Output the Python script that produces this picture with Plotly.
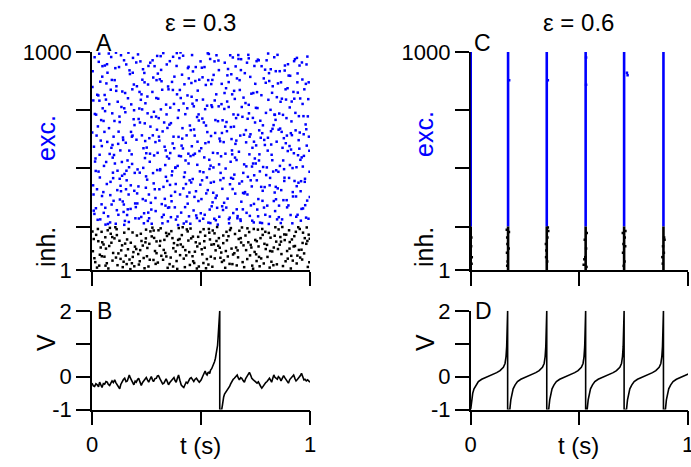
import plotly.graph_objects as go

# ---------------- data ----------------
# Panel A raster (eps = 0.3): (time in ms, neuron index)
exc_A = [
(3,912),(17,455),(42,688),(8,273),(29,801),(46,340),(12,976),(35,529),(21,617),(5,389),(38,864),(26,231),(49,742),(14,498),(31,955),(9,566),(44,302),(19,713),(2,840),(36,425),(27,659),(11,258),(47,887),(23,371),(40,594),(6,778),(33,992),(16,512),
(57,634),(83,219),(71,905),(96,447),(64,782),(52,358),(89,561),(77,993),(61,286),(93,719),(55,478),(86,827),(68,395),(99,612),(74,247),(59,938),(81,533),(90,301),(66,856),(53,684),(97,422),(79,761),(62,209),(88,977),(70,588),(84,344),(58,803),(95,516),
(104,871),(128,324),(143,597),(117,456),(135,748),(109,213),(147,962),(122,635),(131,387),(101,528),(139,819),(114,275),(126,704),(149,441),(107,926),(133,362),(120,579),(145,267),(112,843),(137,496),(103,684),(124,931),(141,315),(118,772),(130,549),(148,208),(110,997),(127,419),
(153,724),(178,389),(192,851),(161,253),(186,617),(157,943),(170,472),(198,306),(165,788),(182,531),(151,226),(174,899),(195,665),(159,412),(188,973),(168,347),(180,760),(155,584),(199,238),(172,916),(163,503),(191,692),(177,281),(185,829),(158,456),(194,364),(167,997),(183,612),
(204,598),(231,873),(246,319),(217,741),(209,462),(238,215),(222,957),(249,536),(213,384),(227,806),(242,673),(201,289),(234,921),(219,447),(245,765),(207,352),(229,618),(240,904),(215,237),(236,559),(224,781),(248,430),(211,989),(233,326),(220,677),(243,514),(206,843),(239,261),
(253,415),(278,962),(291,587),(262,238),(284,726),(257,851),(270,309),(298,644),(265,497),(281,883),(251,562),(274,213),(295,789),(259,936),(288,371),(268,658),(280,445),(255,719),(299,982),(272,278),(263,605),(291,331),(277,817),(285,526),(258,264),(294,704),(267,951),(283,398),
(304,786),(321,243),(346,652),(317,918),(309,371),(338,549),(322,827),(349,286),(313,463),(327,995),(342,714),(301,538),(334,327),(319,866),(345,409),(307,612),(329,254),(340,759),(315,981),(336,482),(324,636),(348,224),(311,875),(333,566),(320,303),(343,943),(306,697),(339,428),
(353,512),(378,887),(392,246),(362,674),(384,395),(357,958),(370,581),(398,733),(365,316),(382,469),(351,829),(374,612),(395,207),(359,745),(388,936),(368,453),(380,288),(355,667),(399,524),(372,978),(363,341),(390,806),(377,559),(385,232),(358,391),(394,698),(367,863),(383,471),
(404,347),(428,715),(443,932),(417,558),(409,264),(438,801),(422,427),(449,663),(413,896),(427,289),(442,534),(401,972),(434,618),(419,375),(445,247),(407,789),(429,503),(440,926),(415,651),(436,338),(424,852),(448,412),(411,571),(433,223),(420,764),(443,489),(406,998),(439,305),
(453,642),(478,251),(492,873),(462,418),(484,589),(457,795),(470,336),(498,957),(465,528),(482,702),(451,213),(474,867),(495,453),(459,986),(488,317),(468,645),(480,779),(455,402),(499,261),(472,534),(463,911),(490,686),(477,362),(485,823),(458,568),(494,226),(467,751),(483,483),
(504,928),(531,367),(546,615),(517,254),(509,782),(538,506),(522,849),(549,293),(513,677),(527,425),(542,968),(501,559),(534,218),(519,738),(545,401),(507,884),(529,633),(540,278),(515,517),(536,991),(524,352),(548,756),(511,449),(533,871),(520,582),(543,216),(506,695),(539,464),
(553,311),(578,683),(592,522),(562,957),(584,245),(557,471),(570,806),(598,373),(565,629),(582,917),(551,748),(574,286),(595,854),(559,405),(588,591),(568,229),(580,961),(555,538),(599,687),(572,342),(563,778),(590,446),(577,209),(585,603),(558,895),(594,761),(567,331),(583,485),
(604,587),(628,234),(643,806),(617,679),(609,951),(638,423),(622,328),(649,714),(613,466),(627,862),(642,549),(601,276),(634,985),(619,637),(645,372),(607,739),(629,215),(640,601),(615,834),(636,497),(624,922),(648,262),(611,658),(633,394),(620,773),(643,531),(606,309),(639,898),
(653,438),(678,826),(692,279),(662,594),(684,967),(657,351),(670,712),(698,485),(665,879),(682,226),(651,658),(674,543),(695,791),(659,934),(688,407),(668,248),(680,617),(655,785),(699,352),(672,968),(663,505),(690,703),(677,871),(685,314),(658,579),(694,446),(667,238),(683,917),
(704,766),(728,412),(743,589),(717,987),(709,263),(738,698),(722,531),(749,854),(713,347),(727,623),(742,219),(701,903),(734,475),(719,758),(745,936),(707,586),(729,297),(740,812),(715,428),(736,561),(724,249),(748,677),(711,951),(733,384),(720,719),(743,304),(706,642),(739,489),
(753,572),(778,935),(792,381),(762,247),(784,664),(757,816),(770,453),(798,721),(765,962),(782,318),(751,489),(774,607),(795,254),(759,743),(788,879),(768,531),(780,216),(755,958),(799,436),(772,685),(763,326),(790,597),(777,802),(785,473),(758,278),(794,919),(767,641),(783,364),
(804,296),(828,648),(843,912),(817,423),(809,781),(838,356),(822,576),(849,233),(813,867),(827,504),(842,689),(801,962),(834,317),(819,735),(845,458),(807,607),(829,843),(840,271),(815,389),(836,976),(824,529),(848,793),(811,212),(833,665),(820,921),(843,382),(806,548),(839,712),
(853,856),(878,321),(892,697),(862,478),(884,915),(857,243),(870,634),(898,546),(865,772),(882,409),(851,987),(874,561),(895,288),(859,718),(888,829),(868,367),(880,605),(855,451),(899,944),(872,233),(863,649),(890,782),(877,503),(885,938),(858,296),(894,617),(867,861),(883,424),
(904,423),(928,786),(943,254),(917,619),(909,891),(938,472),(922,338),(949,706),(913,553),(927,958),(942,861),(901,297),(934,641),(919,215),(945,527),(907,746),(929,409),(940,973),(915,682),(936,338),(924,817),(948,596),(911,253),(933,721),(920,468),(943,902),(906,569),(939,385),
(953,631),(978,298),(992,784),(962,517),(984,943),(957,362),(970,706),(998,451),(965,874),(982,241),(951,557),(974,829),(995,612),(959,408),(988,979),(968,283),(980,668),(955,787),(999,335),(972,524),(963,952),(990,705),(977,419),(985,571),(958,227),(994,861),(967,475),(983,646),
(24,804),(7,347),(45,569),(13,716),(38,233),(30,452),(1,631),(48,935),(18,284),(34,777),
(65,496),(91,872),(54,263),(78,651),(99,318),(69,944),(85,405),(60,729),(94,574),(73,212),
(116,367),(142,608),(105,489),(133,985),(148,742),(121,254),(111,822),(138,433),(127,679),(146,301),
(171,548),(152,812),(196,446),(164,279),(187,905),(179,634),(156,371),(193,733),(169,221),(184,487),
(214,693),(247,378),(226,244),(203,952),(235,469),(218,817),(244,592),(208,306),(230,737),(241,861),
(266,534),(292,271),(254,796),(279,618),(299,459),(261,347),(287,935),(273,702),(256,226),(296,871),
(328,382),(302,901),(344,521),(316,737),(337,296),(309,594),(349,842),(323,215),(331,677),(312,458),
(376,762),(354,288),(397,611),(366,435),(389,995),(359,537),(381,359),(371,826),(393,478),(362,243),
(426,448),(403,826),(447,356),(414,603),(437,742),(421,214),(408,522),(444,879),(431,395),(418,983),
(476,931),(452,523),(497,392),(466,274),(489,714),(471,617),(456,858),(493,546),(481,239),(461,763),
(528,754),(502,326),(547,853),(516,931),(535,587),(510,236),(544,479),(523,663),(531,994),(505,412),
(576,536),(552,872),(597,293),(566,688),(589,413),(561,236),(581,751),(571,985),(596,629),(556,355),
(627,748),(603,422),(646,975),(616,287),(637,656),(612,534),(647,419),(621,893),(632,241),(608,812),
(676,397),(652,822),(697,621),(664,279),(687,748),(671,986),(656,516),(693,354),(681,233),(661,697),
(726,886),(702,358),(747,512),(714,694),(735,227),(719,971),(744,435),(723,612),(731,809),(708,476),
(776,382),(752,744),(797,859),(766,503),(789,287),(761,965),(781,628),(771,218),(793,574),(756,412),
(826,813),(802,471),(847,589),(816,246),(837,713),(812,903),(844,325),(821,637),(831,452),(808,993),
(876,712),(852,375),(897,834),(866,216),(889,582),(861,912),(881,463),(871,786),(893,321),(856,644),
(926,536),(902,892),(947,401),(916,773),(937,245),(912,628),(944,814),(921,358),(931,967),(908,482),
(976,405),(952,938),(997,547),(966,762),(987,319),(961,281),(981,854),(971,623),(993,236),(956,506),
]
inh_A = [
(4,87),(19,162),(33,21),(47,128),(11,55),(27,189),(40,104),(8,143),(23,12),(36,71),(44,176),(15,37),
(53,118),(68,32),(82,194),(97,79),(61,151),(75,8),(89,126),(57,62),(72,183),(94,44),(64,99),(86,167),
(103,146),(117,23),(134,91),(148,172),(110,58),(126,135),(141,14),(107,197),(121,77),(138,114),(145,39),(114,161),
(155,67),(168,189),(183,32),(197,108),(161,141),(176,5),(190,83),(152,122),(172,49),(186,173),(165,96),(194,18),
(206,159),(219,41),(233,113),(248,186),(212,74),(227,134),(241,9),(203,97),(224,167),(237,56),(245,128),(215,26),
(254,102),(268,178),(282,47),(296,132),(259,17),(274,155),(289,88),(252,64),(277,195),(292,29),(263,121),(285,148),
(305,183),(318,66),(332,139),(347,11),(311,112),(326,48),(340,171),(302,35),(329,93),(344,157),(315,192),(336,79),
(356,28),(369,147),(384,86),(398,193),(361,58),(376,124),(391,6),(353,166),(373,101),(388,42),(364,179),(395,139),
(407,118),(421,53),(435,187),(449,24),(412,161),(428,92),(442,136),(404,69),(426,14),(439,178),(417,107),(446,83),
(455,146),(469,33),(483,109),(497,175),(461,64),(476,128),(490,17),(452,191),(472,85),(487,153),(464,41),(494,122),
(506,73),(519,158),(534,26),(548,117),(512,188),(527,51),(541,141),(503,96),(523,9),(538,172),(515,133),(545,62),
(554,182),(567,91),(582,147),(596,38),(559,119),(574,198),(589,57),(552,16),(571,134),(586,103),(562,169),(593,81),
(605,45),(619,137),(633,184),(647,72),(611,11),(626,156),(640,99),(602,124),(623,63),(637,193),(614,88),(644,28),
(656,166),(670,59),(684,127),(698,14),(661,104),(676,181),(691,37),(653,78),(673,143),(688,196),(664,22),(695,114),
(707,92),(721,175),(735,21),(749,139),(712,51),(728,116),(742,189),(704,159),(725,68),(739,7),(717,128),(746,84),
(756,133),(769,18),(783,162),(797,97),(761,186),(776,54),(791,121),(753,73),(773,147),(788,31),(764,109),(795,176),
(805,61),(819,149),(834,104),(848,27),(811,171),(827,86),(841,197),(803,116),(823,39),(838,158),(815,12),(845,131),
(856,187),(869,74),(884,138),(898,53),(861,117),(876,19),(891,163),(853,97),(873,198),(888,41),(864,152),(895,88),
(907,129),(921,44),(935,176),(949,93),(912,8),(928,156),(942,67),(904,183),(925,109),(939,31),(917,141),(946,197),
(955,58),(968,172),(983,121),(997,36),(961,94),(976,147),(990,15),(953,189),(973,77),(988,134),(964,49),(994,163),
(29,133),(2,178),(62,21),(79,111),(113,188),(131,52),(178,126),(159,28),(221,92),(247,146),(265,48),(283,182),
(313,134),(341,63),(372,17),(392,115),(416,197),(432,68),(463,154),(481,8),(517,103),(536,189),(563,54),(579,112),
(617,176),(631,29),(668,91),(682,147),(713,192),(731,104),(766,61),(781,189),(817,88),(832,23),(867,131),(882,164),
(914,66),(931,111),(966,125),(985,196),(45,64),(93,152),(187,61),(296,78),(402,143),(511,33),(602,159),(755,42),
(906,99),(999,144),
]

# Panel B voltage trace (eps = 0.3)
t_B = [0.000,0.006,0.012,0.018,0.024,0.030,0.035,0.041,0.046,0.052,0.058,0.064,0.070,0.075,0.081,0.087,0.092,0.098,0.104,0.110,
       0.116,0.121,0.127,0.132,0.137,0.144,0.150,0.156,0.162,0.167,0.171,0.176,0.180,0.186,0.192,0.198,0.203,0.209,0.214,0.220,
       0.226,0.232,0.237,0.243,0.249,0.255,0.260,0.266,0.272,0.277,0.282,0.289,0.295,0.300,0.305,0.312,0.318,0.324,0.330,0.335,
       0.340,0.346,0.351,0.357,0.363,0.370,0.376,0.381,0.386,0.392,0.397,0.403,0.409,0.415,0.421,0.427,0.432,0.438,0.443,0.449,
       0.455,0.461,0.467,0.473,0.479,0.486,0.492,0.497,0.501,0.506,0.510,0.515,0.519,0.524,0.528,0.532,0.536,0.540,0.544,0.549,
       0.553,0.558,0.562,0.566,0.569,0.573,0.576,0.578,0.580,0.583,0.585,0.586,0.586,0.595,0.598,0.600,0.604,0.608,0.614,0.620,
       0.626,0.631,0.636,0.641,0.647,0.653,0.660,0.666,0.671,0.676,0.682,0.687,0.693,0.699,0.705,0.711,0.717,0.722,0.728,0.733,
       0.739,0.745,0.751,0.757,0.763,0.768,0.774,0.779,0.785,0.791,0.797,0.803,0.809,0.814,0.819,0.824,0.829,0.834,0.839,0.844,
       0.850,0.855,0.861,0.867,0.873,0.879,0.885,0.890,0.896,0.901,0.907,0.913,0.919,0.925,0.931,0.936,0.942,0.947,0.952,0.956,
       0.961,0.966,0.972,0.977,0.983,0.989,0.995,1.000]
V_B = [-0.20,-0.28,-0.30,-0.22,-0.25,-0.31,-0.17,-0.26,-0.33,-0.21,-0.23,-0.15,-0.17,-0.24,-0.27,-0.19,-0.13,-0.18,-0.10,-0.19,
       -0.25,-0.30,-0.37,-0.24,-0.17,-0.09,-0.05,-0.15,-0.13,-0.02,0.05,-0.04,-0.10,-0.19,-0.25,-0.14,-0.17,-0.09,-0.05,-0.16,
       -0.27,-0.18,-0.13,-0.06,-0.03,-0.11,-0.17,-0.08,0.00,-0.09,-0.15,-0.06,-0.05,0.02,0.03,-0.07,-0.13,-0.22,-0.20,-0.12,
       -0.07,-0.16,-0.25,-0.18,-0.13,-0.06,-0.03,-0.12,-0.17,-0.04,0.05,-0.11,-0.25,-0.30,-0.33,-0.24,-0.17,-0.20,-0.13,-0.06,
       -0.03,-0.10,-0.15,-0.08,-0.05,-0.12,-0.17,-0.13,-0.10,-0.02,0.05,0.11,0.17,0.08,0.05,0.12,0.13,0.09,0.20,0.24,
       0.30,0.36,0.45,0.55,0.65,0.80,0.95,1.15,1.36,1.62,1.86,2.00,-1.00,-1.00,-0.88,-0.75,-0.62,-0.53,-0.47,-0.43,
       -0.36,-0.30,-0.22,-0.15,-0.09,-0.05,0.00,0.05,-0.04,-0.10,-0.03,-0.05,-0.12,-0.17,-0.06,0.00,0.07,0.13,0.04,-0.05,
       -0.09,-0.13,-0.17,-0.20,-0.16,-0.25,-0.30,-0.35,-0.28,-0.23,-0.18,-0.15,-0.09,-0.05,-0.11,-0.17,-0.06,0.05,-0.02,-0.05,
       -0.08,0.00,-0.04,-0.13,-0.05,0.03,-0.04,-0.10,-0.15,-0.20,-0.09,-0.03,0.02,0.05,-0.06,-0.13,-0.09,-0.05,0.00,0.03,
       0.10,0.02,-0.10,-0.08,-0.13,-0.10,-0.15,-0.17]

# Panel C raster (eps = 0.6): synchronous population events (s)
sync_C = [0.000, 0.172, 0.350, 0.529, 0.706, 0.887]
inh_C = [(0.003,150),(0.005,60),(0.002,110),(0.004,30),
         (0.166,185),(0.168,150),(0.169,120),(0.167,80),(0.175,100),(0.170,40),(0.168,20),(0.176,175),
         (0.355,196),(0.346,120),(0.353,150),(0.347,60),(0.352,40),(0.348,90),(0.357,180),
         (0.520,25),(0.533,15),(0.525,140),(0.531,100),(0.527,60),(0.534,170),(0.523,50),
         (0.700,170),(0.712,180),(0.703,120),(0.709,150),(0.701,80),(0.708,40),(0.704,20),(0.711,110),
         (0.882,60),(0.885,110),(0.890,150),(0.884,30),(0.889,80),(0.892,140)]
exc_C = [(0.177,870),(0.355,870),(0.531,975),(0.531,850),(0.722,894),(0.719,905)]

# Panel D voltage trace (eps = 0.6): one cycle shape + event times
cycle_phase_D = [0.0, 0.0046, 0.0092, 0.0153, 0.0245, 0.0353, 0.0506, 0.0736, 0.0966, 0.1196,
                 0.1350, 0.1503, 0.1580, 0.1626, 0.1656, 0.1687, 0.1700]
cycle_V_D = [-1.0, -0.71, -0.51, -0.37, -0.25, -0.15, -0.08, -0.02, 0.05, 0.12,
             0.18, 0.28, 0.40, 0.61, 0.91, 1.41, 2.0]
rise_D = [0.000, 0.180, 0.359, 0.536, 0.717, 0.896]
spike_D = [0.170, 0.350, 0.529, 0.706, 0.887]

# ---------------- figure ----------------
W, H = 691, 467
FONT = "Liberation Sans, Arial, Helvetica, sans-serif"
BLUE = "#0000ff"

def px(v):
    return v / W

def py(v):
    return 1 - v / H

fig = go.Figure()

mk = dict(symbol="square", size=2.5, line=dict(width=0))

fig.add_trace(go.Scatter(x=[t / 1000 for t, n in exc_A], y=[n for t, n in exc_A], mode="markers",
                         marker=dict(color=BLUE, **mk), xaxis="x", yaxis="y", hoverinfo="skip"))
fig.add_trace(go.Scatter(x=[t / 1000 for t, n in inh_A], y=[n for t, n in inh_A], mode="markers",
                         marker=dict(color="black", **mk), xaxis="x", yaxis="y", hoverinfo="skip"))

fig.add_trace(go.Scatter(x=t_B, y=V_B, mode="lines", line=dict(color="black", width=1.6),
                         xaxis="x2", yaxis="y2", hoverinfo="skip"))

# C: vertical population events
bx, by, kx, ky = [], [], [], []
for t in sync_C:
    bx += [t, t, None]; by += [200, 1000, None]
    kx += [t, t, None]; ky += [1, 200, None]
fig.add_trace(go.Scatter(x=bx, y=by, mode="lines", line=dict(color=BLUE, width=2.6),
                         xaxis="x3", yaxis="y3", hoverinfo="skip"))
fig.add_trace(go.Scatter(x=kx, y=ky, mode="lines", line=dict(color="black", width=2.6),
                         xaxis="x3", yaxis="y3", hoverinfo="skip"))
fig.add_trace(go.Scatter(x=[t for t, n in inh_C], y=[n for t, n in inh_C], mode="markers",
                         marker=dict(color="black", **mk), xaxis="x3", yaxis="y3", hoverinfo="skip"))
fig.add_trace(go.Scatter(x=[t for t, n in exc_C], y=[n for t, n in exc_C], mode="markers",
                         marker=dict(color=BLUE, **mk), xaxis="x3", yaxis="y3", hoverinfo="skip"))

# D trace
dx, dy = [], []
for i, r in enumerate(rise_D):
    for p, v in zip(cycle_phase_D, cycle_V_D):
        dx.append(r + p); dy.append(v)
    if i < len(spike_D):
        dx.append(spike_D[i]); dy.append(-1.0)
fig.add_trace(go.Scatter(x=dx, y=dy, mode="lines", line=dict(color="black", width=1.6),
                         xaxis="x4", yaxis="y4", hoverinfo="skip"))

common = dict(showline=True, linecolor="black", linewidth=1.6, ticks="outside", ticklen=14,
              tickwidth=1.6, tickcolor="black", showgrid=False, zeroline=False, automargin=False,
              ticklabeloverflow="allow",
              tickfont=dict(family=FONT, size=22, color="black"), fixedrange=True)

xA = [px(92), px(310)]
xC = [px(470.7), px(688)]
yTop = [py(270), py(52)]
yBot = [py(409.5), py(310.8)]

xt = dict(tickvals=[0, 0.5, 1], range=[0, 1])
yr = dict(range=[1, 1000], tickvals=[1, 200, 467, 733, 1000], ticktext=["1", "", "", "", "1000"])
yv = dict(range=[-1, 2], tickvals=[-1, 0, 1, 2], ticktext=["-1", "0", "", "2"])

fig.update_layout(
    width=W, height=H, margin=dict(l=0, r=0, t=0, b=0, pad=0, autoexpand=False),
    paper_bgcolor="white", plot_bgcolor="white", showlegend=False,
    font=dict(family=FONT, color="black"),
    xaxis=dict(domain=xA, anchor="y", showticklabels=False, **xt, **common),
    yaxis=dict(domain=yTop, anchor="x", **yr, **common),
    xaxis2=dict(domain=xA, anchor="y2", ticktext=["0", "", "1"], **xt, **common),
    yaxis2=dict(domain=yBot, anchor="x2", **yv, **common),
    xaxis3=dict(domain=xC, anchor="y3", showticklabels=False, **xt, **common),
    yaxis3=dict(domain=yTop, anchor="x3", layer="below traces", **yr, **common),
    xaxis4=dict(domain=xC, anchor="y4", ticktext=["0", "", "1"], **xt, **common),
    yaxis4=dict(domain=yBot, anchor="x4", **yv, **common),
)

def ann(text, x, y, size, color="black", angle=0, xanchor="center"):
    fig.add_annotation(text=text, x=px(x), y=py(y), xref="paper", yref="paper",
                       showarrow=False, xanchor=xanchor, yanchor="middle", textangle=angle,
                       font=dict(family=FONT, size=size, color=color))

ann("ε = 0.3", 201, 22, 24)
ann("ε = 0.6", 578, 22, 24)
ann("A", 94, 43, 23, xanchor="left")
ann("B", 95, 311, 23, xanchor="left")
ann("C", 472, 43, 23, xanchor="left")
ann("D", 473, 311, 23, xanchor="left")
ann("exc.", 46, 138, 25, color=BLUE, angle=-90)
ann("inh.", 46, 247, 25, angle=-90)
ann("exc.", 424, 134, 25, color=BLUE, angle=-90)
ann("inh.", 424, 247, 25, angle=-90)
ann("V", 46, 343, 25, angle=-90)
ann("V", 425, 343, 25, angle=-90)
ann("t (s)", 200, 445, 24)
ann("t (s)", 578, 445, 24)

fig.write_html("out.html")
